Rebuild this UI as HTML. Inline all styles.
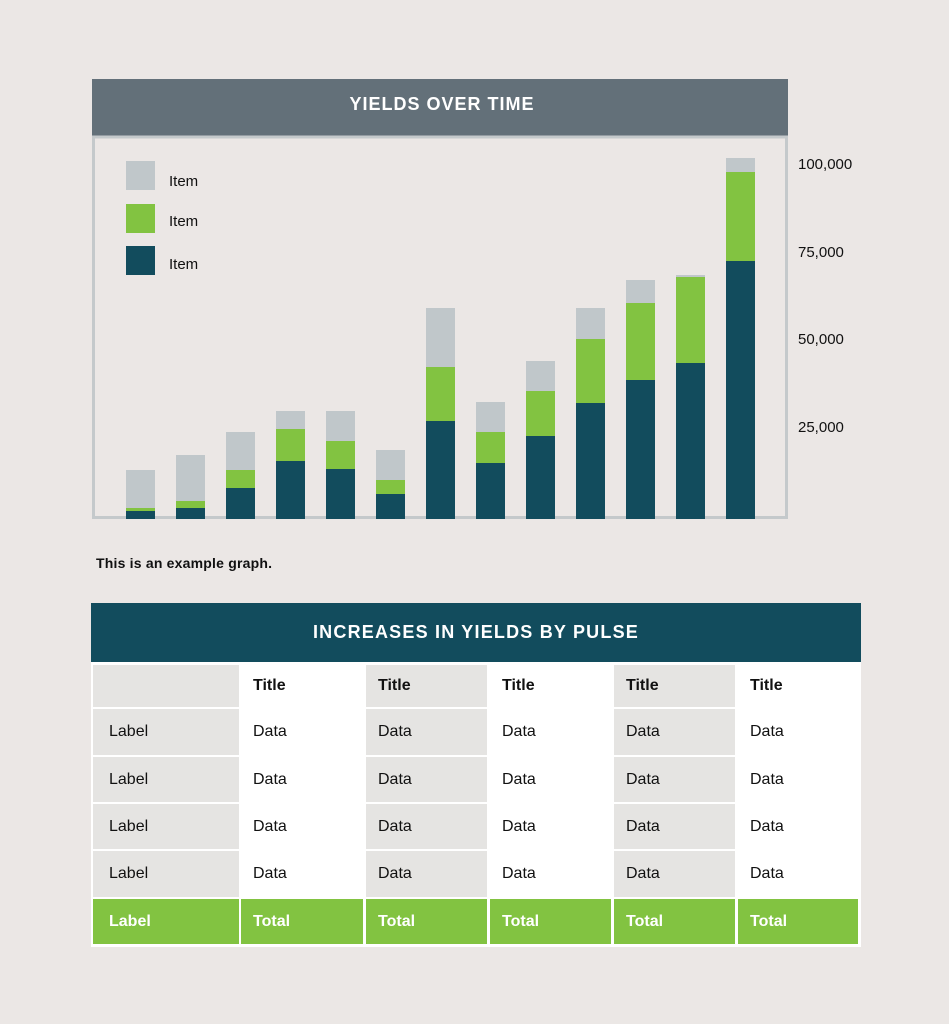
<!DOCTYPE html>
<html><head><meta charset="utf-8"><style>
body{margin:0;width:949px;height:1024px;background:#ebe7e5;position:relative;font-family:"Liberation Sans",Arial,sans-serif;overflow:hidden}
.a{position:absolute}
.c{position:absolute;box-sizing:border-box;font-size:16px;color:#111;padding-left:13px;display:flex;align-items:center}
.g{background:#e5e4e2}
.t{background:#82c341;color:#fff;font-weight:bold}
.h{font-weight:bold}
</style></head><body>
<svg class="a" style="left:0;top:0" width="949" height="600">
<rect x="92" y="79" width="696" height="58" fill="#637079"/>
<text x="442" y="110" fill="#fff" font-family="Liberation Sans" font-weight="bold" font-size="18" letter-spacing="1" text-anchor="middle">YIELDS OVER TIME</text>
<rect x="93.5" y="137" width="693" height="380.5" fill="none" stroke="#c4c9cb" stroke-width="3"/>
<rect x="126" y="161" width="29" height="29" fill="#c0c7ca"/>
<rect x="126" y="204" width="29" height="29" fill="#82c341"/>
<rect x="126" y="246" width="29" height="29" fill="#124c5d"/>
<g font-family="Liberation Sans" font-size="15" fill="#111">
<text x="169" y="186">Item</text><text x="169" y="226">Item</text><text x="169" y="269">Item</text>
<text x="798" y="169">100,000</text><text x="798" y="257">75,000</text><text x="798" y="344">50,000</text><text x="798" y="432">25,000</text>
</g>
<g id="bars"></g>
<text x="96" y="568" font-family="Liberation Sans" font-weight="bold" font-size="14" fill="#111" textLength="176">This is an example graph.</text>
</svg>
<script>
var d=[[126,470,508,511],[176,455,501,508],[226,432,470,488],[276,411,429,461],[326,411,441,469],[376,450,480,494],[426,308,367,421],[476,402,432,463],[526,361,391,436],[576,308,339,403],[626,280,303,380],[676,275,277,363],[726,158,172,261]];
var s='';d.forEach(function(b){s+='<rect x="'+b[0]+'" y="'+b[1]+'" width="29" height="'+(b[2]-b[1])+'" fill="#c0c7ca"/><rect x="'+b[0]+'" y="'+b[2]+'" width="29" height="'+(b[3]-b[2])+'" fill="#82c341"/><rect x="'+b[0]+'" y="'+b[3]+'" width="29" height="'+(519-b[3])+'" fill="#124c5d"/>';});
document.getElementById('bars').innerHTML=s;
</script>
<div class="a" style="left:91px;top:603px;width:770px;height:59px;background:#124c5d;color:#fff;font-weight:bold;font-size:18px;letter-spacing:1.2px;text-align:center;line-height:58px">INCREASES IN YIELDS BY PULSE</div>
<div class="a" style="left:91px;top:662px;width:770px;height:285px;background:#fff"></div>
<div id="tbl"></div>
<script>
var cols=[[93,146],[241,122],[366,121],[490,121],[614,121],[738,120]];
var rows=[[665,42],[709,46],[757,45],[804,45],[851,46],[899,45]];
var h='';
rows.forEach(function(r,ri){cols.forEach(function(c,ci){
var cls='c',txt;
if(ri==5){cls+=' t';txt=ci==0?'Label':'Total';}
else if(ri==0){cls+=' h';txt=ci==0?'':'Title';if(ci%2==0)cls+=' g';}
else{txt=ci==0?'Label':'Data';if(ci%2==0)cls+=' g';}
var pl=ci==0?16:12;
h+='<div class="'+cls+'" style="padding-left:'+pl+'px;left:'+c[0]+'px;top:'+r[0]+'px;width:'+c[1]+'px;height:'+r[1]+'px">'+txt+'</div>';});});
document.getElementById('tbl').innerHTML=h;
</script>
</body></html>
